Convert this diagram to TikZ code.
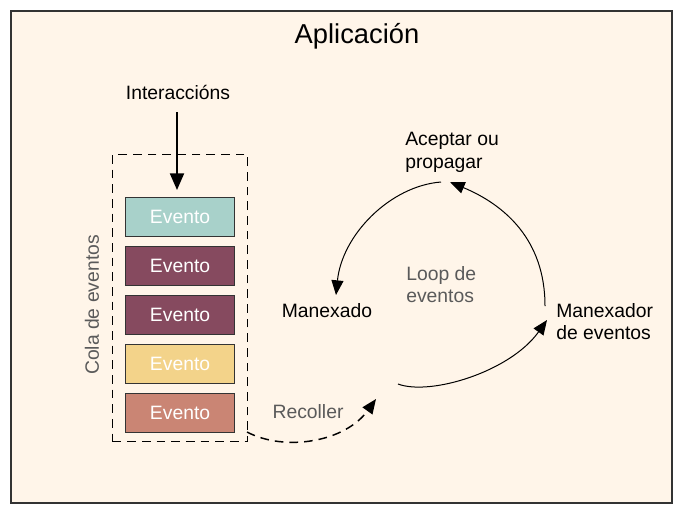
\documentclass[tikz,border=0pt]{standalone}
\usepackage{fontspec}
\setmainfont{Liberation Sans}
\usetikzlibrary{arrows.meta}
\definecolor{cream}{HTML}{FFF5E9}
\definecolor{framec}{HTML}{333333}
\definecolor{teal1}{HTML}{A8D1CA}
\definecolor{maroon1}{HTML}{864A5F}
\definecolor{yellow1}{HTML}{F3D38A}
\definecolor{salmon1}{HTML}{CA8574}
\definecolor{greytext}{HTML}{5A5A5A}
\tikzset{
  evbox/.style={draw=framec, line width=0.8pt, minimum width=81.75pt, minimum height=29.25pt, inner sep=0pt, text=white, font=\fontsize{14.5pt}{17pt}\selectfont},
  lbl/.style={font=\fontsize{14.5pt}{17pt}\selectfont, inner sep=0pt, align=left},
  glbl/.style={lbl, text=greytext},
  tipA/.style={-{Triangle[length=11pt,width=9pt]}},
  arc/.style={tipA, line width=0.75pt, black},
  dsh/.style={dashed, dash pattern=on 6.5pt off 4.5pt, line width=1.1pt},
}
\begin{document}
\begin{tikzpicture}[x=0.75pt,y=-0.75pt]
\useasboundingbox (0,0) rectangle (681,512);
\fill[white] (0,0) rectangle (681,512);
\node[draw=framec, fill=cream, line width=1.3pt, minimum width=495.75pt, minimum height=369pt, inner sep=0pt, anchor=north west] (frame) at (10,10) {};
\node[lbl, font=\fontsize{20.5pt}{24pt}\selectfont] (title) at (357,36) {Aplicación};
\node[lbl] (inter) at (178,92) {Interaccións};
\node[draw=black, dsh, minimum width=101.25pt, minimum height=215.25pt, inner sep=0pt, anchor=north west] (queue) at (112,154) {};
\node[evbox, fill=teal1, anchor=north west] (e1) at (125,197) {Evento};
\node[evbox, fill=maroon1, anchor=north west] (e2) at (125,246) {Evento};
\node[evbox, fill=maroon1, anchor=north west] (e3) at (125,295) {Evento};
\node[evbox, fill=yellow1, anchor=north west] (e4) at (125,344) {Evento};
\node[evbox, fill=salmon1, anchor=north west] (e5) at (125,393) {Evento};
\node[glbl, rotate=90] (cola) at (92,305) {Cola de eventos};
\node[glbl] (recoller) at (308,412) {Recoller};
\node[lbl, anchor=north west] (acept) at (405,132) {Aceptar ou\\[0pt]propagar};
\node[lbl] (manexado) at (327,311) {Manexado};
\node[lbl, anchor=north west] (manexador) at (556,303) {Manexador\\[0pt]de eventos};
\node[glbl, anchor=north west] (loop) at (406,266) {Loop de\\[0pt]eventos};
% interactions arrow
\coordinate (iS) at (177,112);
\coordinate (iE) at (177,190);
\draw[-{Triangle[length=12.5pt,width=10.5pt]}, line width=1.5pt] (iS) -- (iE);
% dashed collect arrow
\coordinate (dS) at (247,432);
\coordinate (dE) at (376,399);
\draw[tipA, dsh] (dS) .. controls (285,452) and (345,442) .. (dE);
% loop arcs
\coordinate (a1S) at (398,384);
\coordinate (a1E) at (547,320);
\draw[arc] (a1S) .. controls (430,396) and (510,372) .. (a1E);
\coordinate (a2S) at (545,306);
\coordinate (a2E) at (450,182);
\draw[arc] (a2S) .. controls (545,240) and (505,205) .. (a2E);
\coordinate (a3S) at (441,182);
\coordinate (a3E) at (336,295);
\draw[arc] (a3S) .. controls (390,186) and (342,235) .. (a3E);
\end{tikzpicture}
\end{document}
